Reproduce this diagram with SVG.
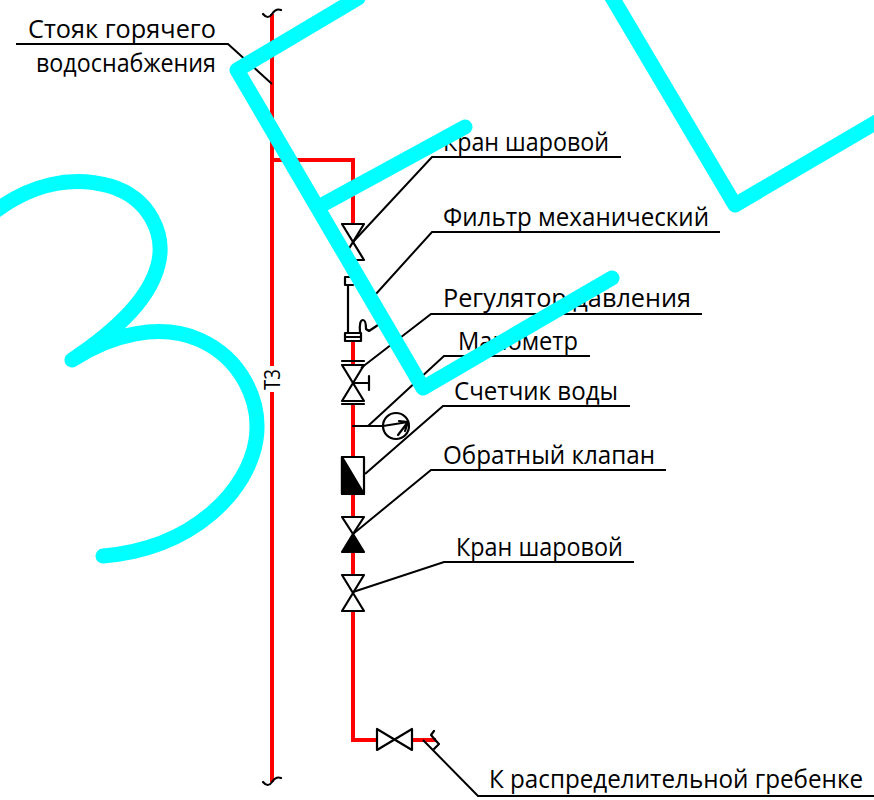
<svg xmlns="http://www.w3.org/2000/svg" width="874" height="800" viewBox="0 0 874 800">
<style>
.pipe{fill:none;stroke:#ff0000;stroke-width:4}
.k{fill:none;stroke:#000;stroke-width:2.2;stroke-linejoin:round;stroke-linecap:round}
.l{fill:none;stroke:#000;stroke-width:2}
.kf{fill:#000;stroke:#000;stroke-width:2.2;stroke-linejoin:round}
.c{fill:none;stroke:#00ffff;stroke-width:15;stroke-linecap:round;stroke-linejoin:round}
text{font-family:"Open Sans","Liberation Sans",sans-serif;font-weight:400;font-size:25px;fill:#000}
</style>
<defs>
<path id="v" d="M342 0H364L342 36H364Z" class="k"/>
</defs>
<g id="connectors">
<path class="pipe" d="M272 14V366M272 392V782"/>
<path class="pipe" d="M272 160H353V224M353 342V365M353 403V457M353 495V518M353 552V575M353 610V740H377M411 740H436"/>
<path class="l" d="M16 44H228L272 84"/>
<path class="l" d="M353 242L432 157H621"/>
<path class="l" d="M375 295L432 232H720"/>
<path class="l" d="M361 368L431 314H702"/>
<path class="l" d="M368 426L444 356H590"/>
<path class="l" d="M365 474L443 406H630"/>
<path class="l" d="M353 534L431 470H666"/>
<path class="l" d="M353 592L444 562H634"/>
<path class="l" d="M423 740L478 796H874"/>
</g>
<g id="breaks">
<path class="k" d="M263 14Q268 20 272 14T281 10M263 782Q268 788 272 782T281 778"/>
<path class="k" d="M434 731L431 735Q437 742 439 744L434 749"/>
</g>
<g id="valve1"><use href="#v" y="224"/></g>
<g id="filter">
<path class="k" d="M345 277H353M345 285H353M345 277V285M348 285V333"/>
<rect class="k" x="345" y="333" width="16" height="8"/>
<path class="k" d="M346 337H361M360 332Q359 320 363 320Q366 320 366 329L369 331L378 325"/>
</g>
<g id="regulator">
<path class="k" d="M342 361H364M342 404H364M342 365H364L342 401H364ZM353 383H369M369 376V390"/>
</g>
<g id="gauge">
<path class="k" d="M353 426H383"/>
<circle class="k" cx="396" cy="426" r="13"/>
<path class="k" d="M383 426L408 422M399 421L408 422L405 431M398 435L408 422"/>
</g>
<g id="meter">
<rect class="k" x="342" y="457" width="22" height="37"/>
<path class="kf" d="M342 457L364 494H342Z"/>
</g>
<g id="check">
<path class="k" d="M342 517H364L353 534Z"/>
<path class="kf" d="M353 534L364 552H342Z"/>
</g>
<g id="valve2"><use href="#v" y="575"/></g>
<g id="valve3"><path class="k" d="M377 729V750L412 729V750Z"/></g>
<g id="labels">
<text x="28" y="38" textLength="188" lengthAdjust="spacingAndGlyphs">Стояк горячего</text>
<text x="36" y="72" textLength="180" lengthAdjust="spacingAndGlyphs">водоснабжения</text>
<text x="443" y="151" textLength="166" lengthAdjust="spacingAndGlyphs">Кран шаровой</text>
<text x="443" y="226" textLength="266" lengthAdjust="spacingAndGlyphs">Фильтр механический</text>
<text x="443" y="307" textLength="248" lengthAdjust="spacingAndGlyphs">Регулятор давления</text>
<text x="458" y="350" textLength="120" lengthAdjust="spacingAndGlyphs">Манометр</text>
<text x="454" y="400" textLength="164" lengthAdjust="spacingAndGlyphs">Счетчик воды</text>
<text x="443" y="464" textLength="212" lengthAdjust="spacingAndGlyphs">Обратный клапан</text>
<text x="456" y="556" textLength="167" lengthAdjust="spacingAndGlyphs">Кран шаровой</text>
<text x="489" y="788" textLength="374" lengthAdjust="spacingAndGlyphs">К распределительной гребенке</text>
<text transform="translate(280,390) rotate(-90)" style="font-size:22px" textLength="21" lengthAdjust="spacingAndGlyphs">Т3</text>
</g>
<g id="overlay">
<path class="c" d="M358 -2L237 70L423 388L612 278M322 205L465 127"/>
<path class="c" d="M610 -6L735 205L880 120"/>
<path class="c" d="M-6 212C30 185 70 175 110 186C150 198 166 235 158 265C148 305 105 338 72 360C110 335 160 322 200 340C240 358 262 400 256 440C248 490 195 548 103 556"/>
</g>
</svg>
